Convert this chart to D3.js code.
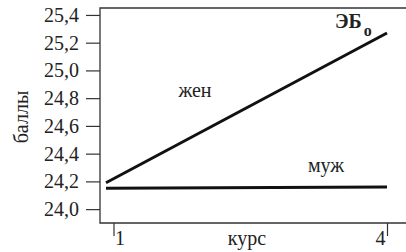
<!DOCTYPE html>
<html>
<head>
<meta charset="utf-8">
<script src="https://cdn.jsdelivr.net/npm/d3@7"></script>
<style>
  body { margin: 0; background: #fff; }
  svg, svg text { font-family: 'Liberation Serif', Tinos, serif !important; }
</style>
</head>
<body>
<div id="chart"></div>
<script>
'use strict'

// data
const courses = [1, 4];
const women = [24.19, 25.27];
const men = [24.15, 24.16];
const yTicks = [24.0, 24.2, 24.4, 24.6, 24.8, 25.0, 25.2, 25.4];
const xTicks = [1, 4];

const width = 406, height = 252;
const fs = 20;
const ink = '#222';

const svg = d3.select('#chart').append('svg')
  .attr('width', width)
  .attr('height', height);

const x = d3.scaleLinear().domain([1, 4]).range([106, 387]);
const y = d3.scaleLinear().domain([23.9, 25.45]).range([223, 8]);

const fmt = d => d3.format('.1f')(d).replace('.', ',');

const styleText = sel => sel
  .style('font-family', "'Liberation Serif', serif")
  .style('font-size', fs + 'px')
  .attr('fill', ink);

// y axis
const yAxis = svg.append('g')
  .attr('transform', 'translate(100,0)')
  .call(d3.axisLeft(y).tickValues(yTicks).tickSize(14).tickPadding(7).tickFormat(fmt))
  .attr('font-family', null);
yAxis.select('.domain').remove();
yAxis.selectAll('line').attr('stroke', '#333').attr('stroke-width', 1.2);
yAxis.selectAll('text').call(styleText);

// frame: left, top, bottom
svg.append('path')
  .attr('d', `M${width},${y.range()[1]}H100V${y.range()[0]}H${width}`)
  .attr('fill', 'none')
  .attr('stroke', '#333')
  .attr('stroke-width', 1.3);

// x axis
const xAxis = svg.append('g')
  .attr('transform', `translate(0,${y.range()[0]})`)
  .call(d3.axisBottom(x).tickValues(xTicks).tickSize(13).tickFormat(d3.format('d')))
  .attr('font-family', null);
xAxis.select('.domain').remove();
xAxis.selectAll('.tick').filter(d => d === 1)
  .attr('transform', `translate(${x(1) + 8},0)`);
xAxis.selectAll('line').attr('stroke', '#333').attr('stroke-width', 1.2);
xAxis.selectAll('text')
  .call(styleText)
  .attr('dy', null).attr('y', 22)
  .attr('text-anchor', d => d === 1 ? 'start' : 'end')
  .attr('dx', d => d === 1 ? 1 : -2);

// axis titles
svg.append('text')
  .attr('x', 247).attr('y', 245)
  .attr('text-anchor', 'middle')
  .call(styleText)
  .text('курс');

svg.append('text')
  .attr('transform', 'translate(28,117) rotate(-90)')
  .attr('text-anchor', 'middle')
  .call(styleText)
  .text('баллы');

// lines
const line = d3.line().x(d => x(d[0])).y(d => y(d[1]));
const series = [
  { name: 'жен', values: women },
  { name: 'муж', values: men }
];

svg.selectAll('.series')
  .data(series)
  .join('path')
  .classed('series', true)
  .attr('d', d => line(courses.map((c, i) => [c, d.values[i]])))
  .attr('fill', 'none')
  .attr('stroke', '#111')
  .attr('stroke-width', 3);

// labels
svg.append('text').attr('x', 195).attr('y', 97)
  .attr('text-anchor', 'middle').call(styleText).text('жен');
svg.append('text').attr('x', 326).attr('y', 172)
  .attr('text-anchor', 'middle').call(styleText).text('муж');

const eb = svg.append('text').attr('x', 335).attr('y', 28)
  .call(styleText).style('font-weight', 'bold');
eb.append('tspan').text('ЭБ');
eb.append('tspan').attr('dy', 8).attr('dx', 2).style('font-size', '16px').text('о');
</script>
</body>
</html>
